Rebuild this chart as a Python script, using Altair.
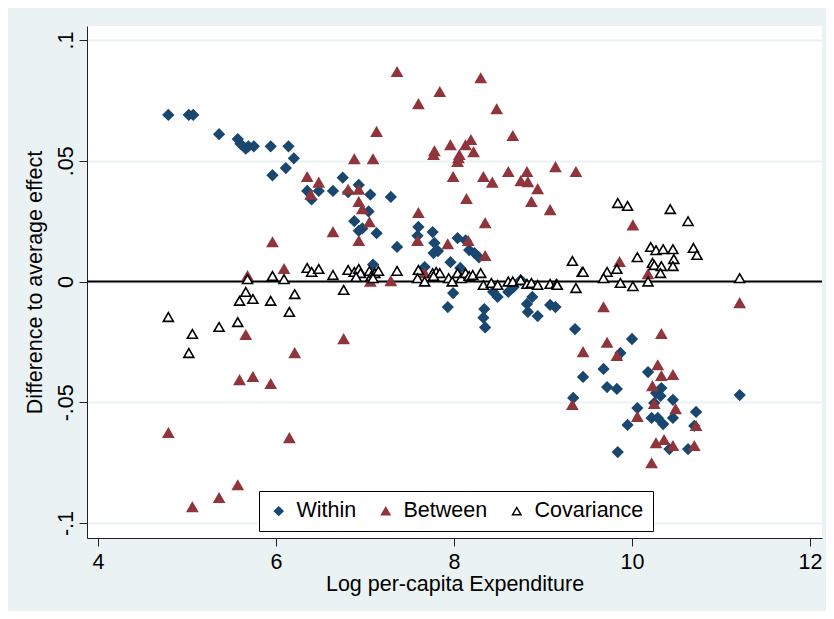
import altair as alt
import pandas as pd

# ---- data ----
within_x = [4.79, 5.02, 5.07, 5.36, 5.57, 5.60, 5.66, 5.69, 5.75, 5.94, 6.14, 6.20, 5.96, 6.11,
            6.35, 6.48, 6.40, 6.64, 6.75, 6.81, 6.93, 7.06, 7.04, 6.88, 6.93, 6.97, 7.13, 7.09,
            7.29, 7.36, 7.60, 7.59, 7.76, 7.78, 7.82, 7.77, 8.04, 7.96, 8.13, 8.17, 8.23, 8.28,
            7.67, 8.07, 7.99, 7.93, 8.34, 8.33, 8.35, 8.44, 8.49, 8.61, 8.67, 8.75, 8.82, 8.83,
            8.88, 8.94, 9.08, 9.14, 9.36, 10.00, 9.87, 9.68, 9.45, 9.72, 9.83, 9.34, 10.18, 10.33,
            10.27, 10.32, 10.25, 10.46, 10.06, 9.95, 10.22, 10.29, 10.35, 10.46, 10.72, 10.70,
            10.42, 10.63, 9.84, 11.21]
within_y = [.069, .069, .069, .061, .059, .057, .055, .056, .056, .056, .056, .051, .044, .047,
            .0375, .0375, .034, .0375, .043, .037, .040, .036, .029, .025, .021, .022, .020, .007,
            .035, .0143, .0226, .0189, .0205, .016, .0126, .0118, .018, .008, .017, .013, .0118, .010,
            .006, .0056, -.0048, -.0106, -.0114, -.015, -.019, -.0043, -.0064, -.0043, -.0023, .0006, -.0093, -.0126,
            -.0064, -.0143, -.0097, -.0106, -.0197, -.0238, -.0296, -.0362, -.0395, -.0437, -.0445, -.0482, -.0375, -.0441,
            -.0462, -.0474, -.0503, -.049, -.0524, -.0594, -.0565, -.0565, -.059, -.0565, -.054, -.0598,
            -.0694, -.0694, -.0706, -.047]

between_x = [7.13, 6.88, 7.09, 6.35, 6.48, 6.39, 6.81, 6.93, 6.93, 6.97, 7.05, 6.64, 6.93, 5.96,
             5.68, 6.09, 7.06, 7.36, 8.30, 7.84, 7.60, 8.48, 8.66, 7.96, 8.19, 8.13, 8.22, 7.78,
             7.77, 8.06, 8.05, 8.04, 7.99, 8.33, 8.43, 8.61, 8.82, 8.75, 8.83, 9.14, 9.37, 8.94,
             8.14, 8.87, 9.08, 7.60, 8.35, 7.59, 7.93, 8.16, 8.35, 7.67, 7.29, 10.01, 9.86, 10.18,
             5.66, 6.76, 6.21, 5.59, 5.74, 5.94, 4.79, 6.15, 5.57, 5.36, 5.06, 9.68, 11.21, 10.33,
             9.72, 9.45, 9.83, 10.29, 10.33, 10.46, 10.23, 9.33, 10.25, 10.49, 10.06, 10.72, 10.27,
             10.36, 10.46, 10.70, 10.22]
between_y = [.062, .0507, .0507, .0433, .041, .036, .038, .038, .033, .030, .0246, .0205, .0168, .0163,
             .0023, .0052, 0.0, .0868, .0842, .0785, .0735, .0714, .0603, .0565, .0586, .0565, .0536, .054,
             .0524, .0524, .0511, .0495, .0433, .0433, .041, .0454, .0454, .0416, .0412, .0474, .0454, .0383,
             .0342, .033, .0296, .0284, .0242, .0168, .0155, .0168, .0106, .0035, .0002, .0233, .0081, .0031,
             -.0221, -.0238, -.0296, -.0408, -.0395, -.0424, -.0627, -.0648, -.0843, -.0896, -.0934, -.0106, -.0089, -.0217,
             -.0253, -.0292, -.0308, -.0346, -.0391, -.0387, -.0433, -.0511, -.0507, -.0528, -.056, -.0598, -.0669,
             -.0656, -.0681, -.0681, -.0752]

cov_x = [5.68, 5.66, 5.59, 5.74, 5.94, 6.21, 6.15, 6.76, 4.79, 5.06, 5.02, 5.36, 5.57, 5.96,
         6.09, 6.35, 6.40, 6.48, 6.64, 6.81, 6.88, 6.93, 6.95, 6.90, 7.05, 7.07, 7.11, 7.15,
         7.36, 7.09, 7.60, 7.59, 7.67, 7.76, 7.80, 7.84, 7.77, 7.94, 7.98, 8.04, 8.08, 8.13,
         8.17, 8.21, 8.30, 8.33, 8.42, 8.49, 8.61, 8.66, 8.75, 8.82, 8.87, 8.94, 9.08, 9.15,
         9.16, 9.37, 9.33, 9.44, 9.84, 9.95, 10.43, 10.63, 10.21, 10.27, 10.35, 10.46, 10.69,
         10.73, 10.06, 10.47, 10.23, 10.25, 10.33, 10.46, 10.32, 9.83, 9.72, 9.68, 9.45, 9.87,
         10.01, 10.18, 11.21]
cov_y = [.001, -.0043, -.008, -.0072, -.008, -.0052, -.0126, -.0035, -.0147, -.0217, -.0296, -.0188, -.0168, .0023,
         .001, .0056, .004, .0052, .0027, .0048, .004, .0052, .0035, .0019, .0044, .0023, .0035, .0044,
         .0044, .0014, .0048, .0014, 0.0, .0035, .004, .0035, .0023, .0014, 0.0, .0035, .0014, .0035,
         .0023, .0027, .0035, -.0014, -.0006, -.0014, 0.0, 0.0, .0006, -.001, -.0006, -.0014, -.001, -.001,
         -.0014, -.0027, .0085, .004, .0325, .0313, .030, .025, .0143, .013, .0134, .0134, .0139,
         .011, .0101, .0093, .0077, .0068, .0064, .0064, .0035, .0052, .004, .0014, .004, -.0006,
         -.0019, 0.0, .0014]

series_names = ["Within", "Between", "Covariance"]
x_ticks = [4, 6, 8, 10, 12]
y_ticks = [-0.1, -0.05, 0, 0.05, 0.1]

rows = []
for name, xs, ys in [("Within", within_x, within_y),
                     ("Between", between_x, between_y),
                     ("Covariance", cov_x, cov_y)]:
    for a, b in zip(xs, ys):
        rows.append({"series": name, "lpce": a, "diff": b, "order": len(rows)})
df = pd.DataFrame(rows)

FONT = "Liberation Sans"
FS = 21.5
NAVY = "#1a476f"
MAROON = "#90353b"
BG = "#eaf2f3"

xscale = alt.Scale(domain=[3.876, 12.135], nice=False, zero=False)
yscale = alt.Scale(domain=[-0.1062, 0.1058], nice=False, zero=False)

legend = alt.Legend(
    title=None, orient="none", legendX=172, legendY=465, direction="horizontal",
    strokeColor="black", fillColor="white", padding=9, labelFontSize=FS, labelFont=FONT,
    labelColor="black", symbolSize=70, columnPadding=18, labelOffset=7,
    symbolStrokeWidth=1.5, cornerRadius=0, labelLimit=300,
)

zero = alt.Chart(pd.DataFrame({"z": [0]})).mark_rule(color="black", strokeWidth=2).encode(
    y=alt.Y("z:Q", scale=yscale)
)

points = alt.Chart(df).mark_point(filled=True, size=100, strokeWidth=1.6, opacity=1).encode(
    x=alt.X("lpce:Q", scale=xscale, title="Log per-capita Expenditure",
            axis=alt.Axis(values=x_ticks, grid=False, tickSize=8, labelPadding=5,
                          titlePadding=1, format="d")),
    y=alt.Y("diff:Q", scale=yscale, title="Difference to average effect",
            axis=alt.Axis(values=y_ticks, grid=True, gridColor=BG, gridWidth=2,
                          tickSize=8, labelAngle=-90, labelAlign="center",
                          labelBaseline="bottom", labelPadding=2, titlePadding=9,
                          labelExpr="datum.value == 0 ? '0' : (datum.value < 0 ? '-' : '') + replace(format(abs(datum.value), '.2~f'), '0.', '.')")),
    shape=alt.Shape("series:N", scale=alt.Scale(domain=series_names,
                    range=["diamond", "triangle-up", "triangle-up"]), legend=legend),
    fill=alt.Fill("series:N", scale=alt.Scale(domain=series_names,
                  range=[NAVY, MAROON, "white"]), legend=legend),
    stroke=alt.Stroke("series:N", scale=alt.Scale(domain=series_names,
                      range=[NAVY, MAROON, "black"]), legend=legend),
    order=alt.Order("order:Q"),
)

chart = alt.layer(zero, points).properties(
    width=735, height=512,
    padding={"left": 79, "top": 18, "right": 4, "bottom": 73},
    autosize=alt.AutoSizeParams(type="none"),
    background=BG,
).configure_view(
    fill="white", stroke=None
).configure_axis(
    labelFont=FONT, titleFont=FONT, labelFontSize=FS, titleFontSize=FS,
    titleFontWeight="normal", labelColor="black", titleColor="black",
    domainColor="#222222", tickColor="#222222", domainWidth=1, tickWidth=1,
)

chart.save("out.html", embed_options={"renderer": "svg", "actions": False})
